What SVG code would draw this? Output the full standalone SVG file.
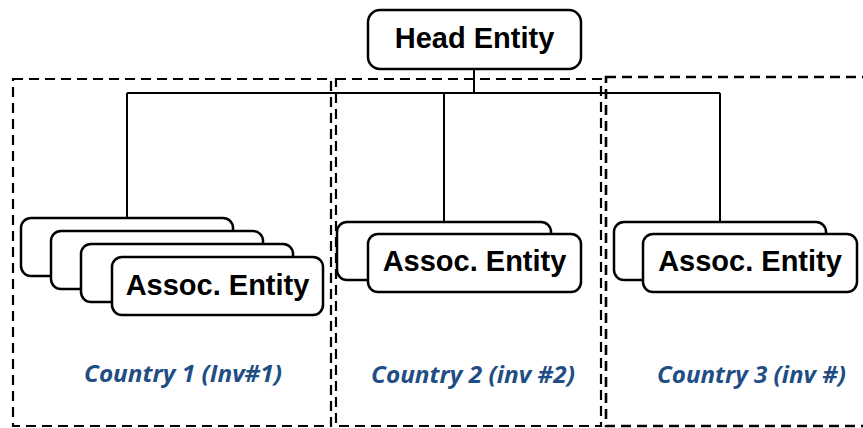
<svg xmlns="http://www.w3.org/2000/svg" width="863" height="428" viewBox="0 0 863 428">
  <style>
    .region { fill: none; stroke: #000; stroke-width: 2.2; stroke-dasharray: 10 6; }
    .region.bold { stroke-width: 2.6; }
    .link { fill: none; stroke: #000; stroke-width: 2; }
    .entity { fill: #fff; stroke: #000; stroke-width: 2.5; }
    .label { font-family: "Liberation Sans", Arial, sans-serif; font-weight: bold; font-size: 29px; fill: #000; text-anchor: middle; }
    .country { font-family: "Open Sans", "Liberation Sans", sans-serif; font-weight: bold; font-style: italic; font-size: 24px; fill: #1F4E85; }
  </style>

  <!-- country regions -->
  <g id="regions">
    <rect class="region" x="13" y="79" width="318" height="347"/>
    <rect class="region" x="336" y="79" width="265" height="347"/>
    <rect class="region bold" x="606" y="77" width="270" height="349"/>
  </g>

  <!-- connectors -->
  <g id="connectors">
    <path class="link" d="M474 69 V93"/>
    <path class="link" d="M127 93 H720"/>
    <path class="link" d="M127 93 V218"/>
    <path class="link" d="M444 93 V222"/>
    <path class="link" d="M720 93 V222"/>
  </g>

  <g id="head-entity">
    <rect class="entity" x="368" y="10" width="213" height="59" rx="12"/>
    <text class="label" x="474.5" y="48" font-size="28.5">Head Entity</text>
  </g>

  <!-- country 1: stack of associated entities -->
  <g id="assoc-1">
    <rect class="entity" x="21" y="218" width="212" height="58" rx="10"/>
    <rect class="entity" x="51" y="231" width="212" height="58" rx="10"/>
    <rect class="entity" x="81" y="244" width="212" height="58" rx="10"/>
    <rect class="entity" x="112" y="257" width="211" height="58" rx="10"/>
    <text class="label" x="217.5" y="295">Assoc. Entity</text>
  </g>

  <g id="assoc-2">
    <rect class="entity" x="337" y="222" width="214" height="58" rx="10"/>
    <rect class="entity" x="368" y="234" width="213" height="58" rx="10"/>
    <text class="label" x="474.5" y="271">Assoc. Entity</text>
  </g>

  <g id="assoc-3">
    <rect class="entity" x="614" y="222" width="212" height="58" rx="10"/>
    <rect class="entity" x="643" y="234" width="214" height="58" rx="10"/>
    <text class="label" x="750" y="271">Assoc. Entity</text>
  </g>

  <g id="country-labels">
    <text class="country" x="84" y="382" textLength="198" lengthAdjust="spacingAndGlyphs">Country 1 (Inv#1)</text>
    <text class="country" x="371" y="383" textLength="204" lengthAdjust="spacingAndGlyphs">Country 2 (inv #2)</text>
    <text class="country" x="657" y="383" textLength="189" lengthAdjust="spacingAndGlyphs">Country 3 (inv #)</text>
  </g>
</svg>
